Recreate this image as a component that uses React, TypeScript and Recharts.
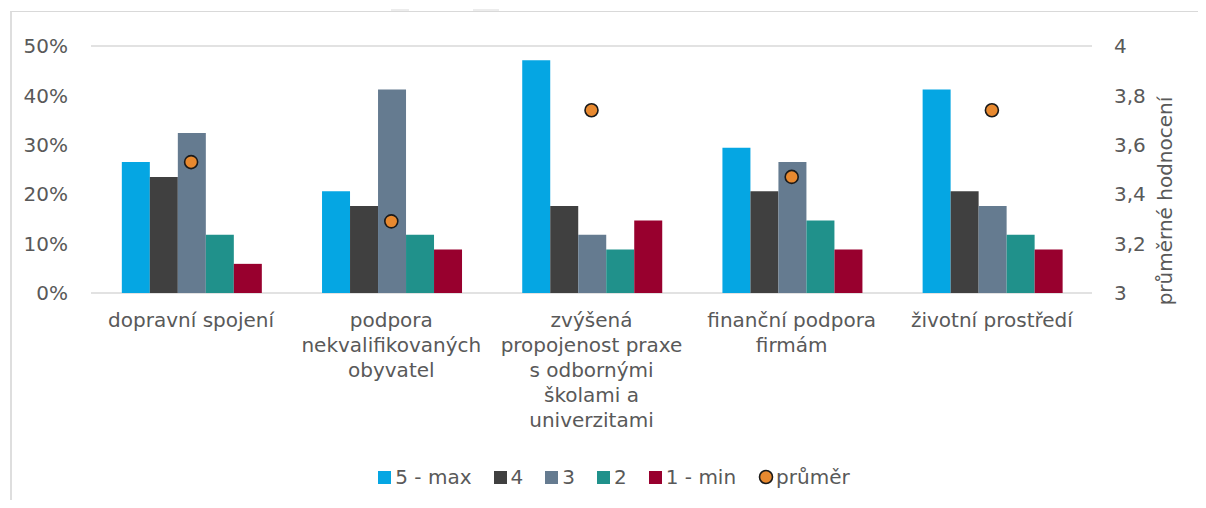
import React from 'react';
import { ComposedChart, Bar, Line, XAxis, YAxis, CartesianGrid, Legend, Label } from 'recharts';

const categories = [
  'dopravní spojení',
  'podpora\nnekvalifikovaných\nobyvatel',
  'zvýšená\npropojenost praxe\ns odbornými\nškolami a\nuniverzitami',
  'finanční podpora\nfirmám',
  'životní prostředí',
];
const rating5 = [26.5, 20.6, 47.1, 29.4, 41.2];
const rating4 = [23.5, 17.6, 17.6, 20.6, 20.6];
const rating3 = [32.4, 41.2, 11.8, 26.5, 17.6];
const rating2 = [11.8, 11.8, 8.8, 14.7, 11.8];
const rating1 = [5.9, 8.8, 14.7, 8.8, 8.8];
const average = [3.53, 3.29, 3.74, 3.47, 3.74];

const leftTicks = [0, 10, 20, 30, 40, 50];
const rightTicks = [3, 3.2, 3.4, 3.6, 3.8, 4];

const seriesNames = ['5 - max', '4', '3', '2', '1 - min'];
const seriesColors = ['#05A6E3', '#404040', '#657B90', '#20918B', '#98002E'];
const avgName = 'průměr';
const avgColor = '#E8892F';

const data = categories.map((c, i) => ({
  name: c,
  s5: rating5[i],
  s4: rating4[i],
  s3: rating3[i],
  s2: rating2[i],
  s1: rating1[i],
  avg: average[i],
}));
const keys = ['s5', 's4', 's3', 's2', 's1'];

const FONT = "'DejaVu Sans', sans-serif";
const TEXT = '#595959';

const XTick = (props: any) => {
  const { x, y, payload } = props;
  const lines = String(payload.value).split('\n');
  return (
    <text x={x} y={y} textAnchor="middle" fill={TEXT} fontSize={20} fontFamily={FONT}>
      {lines.map((l, i) => (
        <tspan key={i} x={x} dy={i === 0 ? 26 : 25}>
          {l}
        </tspan>
      ))}
    </text>
  );
};

const AvgDot = (props: any) => {
  const { cx, cy } = props;
  if (cx == null || cy == null) return null;
  return <circle cx={cx} cy={cy} r={6.5} fill={avgColor} stroke="#1A1A1A" strokeWidth={1.6} />;
};

const LegendContent = () => (
  <div
    style={{
      display: 'flex',
      justifyContent: 'center',
      alignItems: 'center',
      height: 30,
      paddingLeft: 14,
      fontFamily: FONT,
      fontSize: 20,
      color: TEXT,
      whiteSpace: 'nowrap',
    }}
  >
    {seriesNames.map((n, i) => (
      <div key={n} style={{ display: 'flex', alignItems: 'center', marginRight: 22 }}>
        <div style={{ width: 13, height: 13, background: seriesColors[i], marginRight: 4 }} />
        <span>{n}</span>
      </div>
    ))}
    <div style={{ display: 'flex', alignItems: 'center' }}>
      <svg width={16} height={16} style={{ marginRight: 2 }}>
        <circle cx={8} cy={8} r={6.5} fill={avgColor} stroke="#1A1A1A" strokeWidth={1.6} />
      </svg>
      <span>{avgName}</span>
    </div>
  </div>
);

const RightLabel = (props: any) => {
  const vb = props.viewBox || {};
  const cx = vb.x + 73;
  const cy = vb.y + vb.height / 2 + 31.5;
  return (
    <text
      x={cx}
      y={cy}
      transform={`rotate(-90 ${cx} ${cy})`}
      textAnchor="middle"
      dominantBaseline="central"
      fill={TEXT}
      fontSize={20}
      fontFamily={FONT}
    >
      průměrné hodnocení
    </text>
  );
};

export default function App() {
  return (
    <div style={{ position: 'relative', width: 1198, height: 492, overflow: 'hidden', background: '#fff' }}>
      <div
        style={{
          position: 'absolute',
          left: 2,
          top: 3,
          width: 1196,
          height: 489,
          borderTop: '1px solid #D9D9D9',
          borderLeft: '2px solid #DEDEDE',
          boxSizing: 'border-box',
        }}
      />
      <div style={{ position: 'absolute', left: 383, top: 1, width: 18, height: 2, background: '#ECECEC' }} />
      <div style={{ position: 'absolute', left: 465, top: 1, width: 26, height: 2, background: '#ECECEC' }} />
      <ComposedChart
        width={1198}
        height={492}
        data={data}
        margin={{ top: 38, right: 0, bottom: 8, left: 0 }}
        barCategoryGap="15.4%"
        barGap={0}
        style={{ position: 'absolute', left: 0, top: 0 }}
      >
        <CartesianGrid vertical={false} stroke="#D9D9D9" strokeWidth={1.3} />
        <XAxis
          dataKey="name"
          axisLine={false}
          tickLine={false}
          interval={0}
          height={169}
          tick={<XTick />}
        />
        <YAxis
          yAxisId="left"
          orientation="left"
          domain={[0, 50]}
          ticks={leftTicks}
          width={83}
          axisLine={false}
          tickLine={false}
          tickSize={0}
          tickMargin={23}
          tickFormatter={(v: number) => `${v}%`}
          tick={{ fill: TEXT, fontSize: 20, fontFamily: FONT }}
        />
        <YAxis
          yAxisId="right"
          orientation="right"
          domain={[3, 4]}
          ticks={rightTicks}
          width={114}
          axisLine={false}
          tickLine={false}
          tickSize={0}
          tickMargin={22}
          tickFormatter={(v: number) => String(v).replace('.', ',')}
          tick={{ fill: TEXT, fontSize: 20, fontFamily: FONT, textAnchor: 'start' }}
          label={<Label content={<RightLabel />} />}
        />
        {keys.map((k, i) => (
          <Bar key={k} yAxisId="left" dataKey={k} name={seriesNames[i]} fill={seriesColors[i]} isAnimationActive={false} />
        ))}
        <Line
          yAxisId="right"
          dataKey="avg"
          name={avgName}
          stroke="none"
          strokeWidth={0}
          dot={<AvgDot />}
          activeDot={false}
          isAnimationActive={false}
        />
        <Legend verticalAlign="bottom" content={<LegendContent />} wrapperStyle={{ left: 0, width: 1198 }} />
      </ComposedChart>
    </div>
  );
}
